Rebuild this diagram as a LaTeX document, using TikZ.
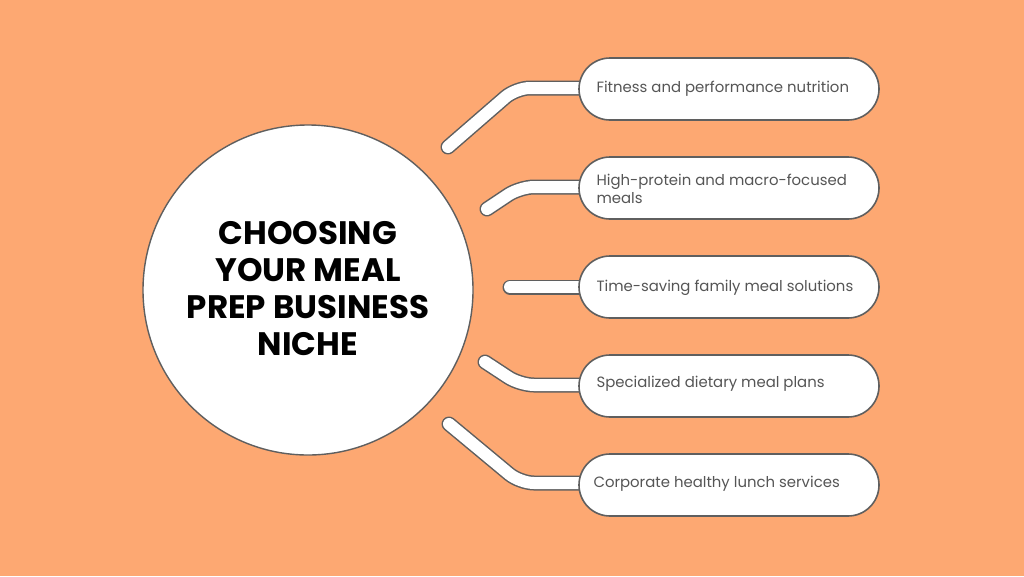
\documentclass[tikz,border=0pt]{standalone}
\usepackage{fontspec}
\setmainfont{Poppins}
\newfontfamily\titlefont{Poppins}[UprightFont=*-Bold]
\definecolor{bgorange}{RGB}{253,168,114}
\definecolor{edgegray}{RGB}{95,95,95}
\definecolor{txtgray}{RGB}{85,85,85}
\tikzset{
  pill/.style={draw=edgegray, line width=1.6pt, fill=white, rounded corners=31pt,
    minimum width=300pt, minimum height=62pt, inner sep=0pt},
  itemtext/.style={text=txtgray, font=\fontsize{14.9}{18}\selectfont, align=left, anchor=west},
  barout/.style={draw=edgegray, line width=15pt, line cap=round, line join=round, rounded corners=14pt},
  barin/.style={draw=white, line width=12pt, line cap=round, line join=round, rounded corners=14pt},
  hub/.style={circle, draw=edgegray, line width=1.4pt, fill=white, minimum size=330pt, inner sep=0pt}
}
\begin{document}
\begin{tikzpicture}[x=1pt,y=-1pt]
\useasboundingbox (0,0) rectangle (1024,576);
\fill[bgorange] (0,0) rectangle (1024,576);
% connector free ends and bends
\coordinate (e1) at (448,147); \coordinate (b1) at (516,88);
\coordinate (e2) at (487,209); \coordinate (b2) at (520,187);
\coordinate (e3) at (510,287);
\coordinate (e4) at (485,362); \coordinate (b4) at (520,385);
\coordinate (e5) at (449,424); \coordinate (b5) at (520,483);
\coordinate (t1) at (590,88);
\coordinate (t2) at (590,187);
\coordinate (t3) at (590,287);
\coordinate (t4) at (590,385);
\coordinate (t5) at (590,483);
\foreach \s in {barout,barin}{
  \draw[\s] (e1) -- (b1) -- (t1);
  \draw[\s] (e2) -- (b2) -- (t2);
  \draw[\s] (e3) -- (t3);
  \draw[\s] (e4) -- (b4) -- (t4);
  \draw[\s] (e5) -- (b5) -- (t5);
}
\node[hub] (hub) at (308,290) {};
\node[font=\titlefont\fontsize{32.5}{37}\selectfont, align=center, text=black] (title) at (308,289)
  {CHOOSING\\YOUR MEAL\\PREP BUSINESS\\NICHE};
\node[pill] (p1) at (729,89) {};
\node[pill] (p2) at (729,188) {};
\node[pill] (p3) at (729,287) {};
\node[pill] (p4) at (729,386) {};
\node[pill] (p5) at (729,485) {};
\node[itemtext] (l1) at (593,89) {Fitness and performance nutrition};
\node[itemtext] (l2) at (593,189) {High-protein and macro-focused\\meals};
\node[itemtext] (l3) at (593,288) {Time-saving family meal solutions};
\node[itemtext] (l4) at (593,384) {Specialized dietary meal plans};
\node[itemtext] (l5) at (590,484) {Corporate healthy lunch services};
\end{tikzpicture}
\end{document}
